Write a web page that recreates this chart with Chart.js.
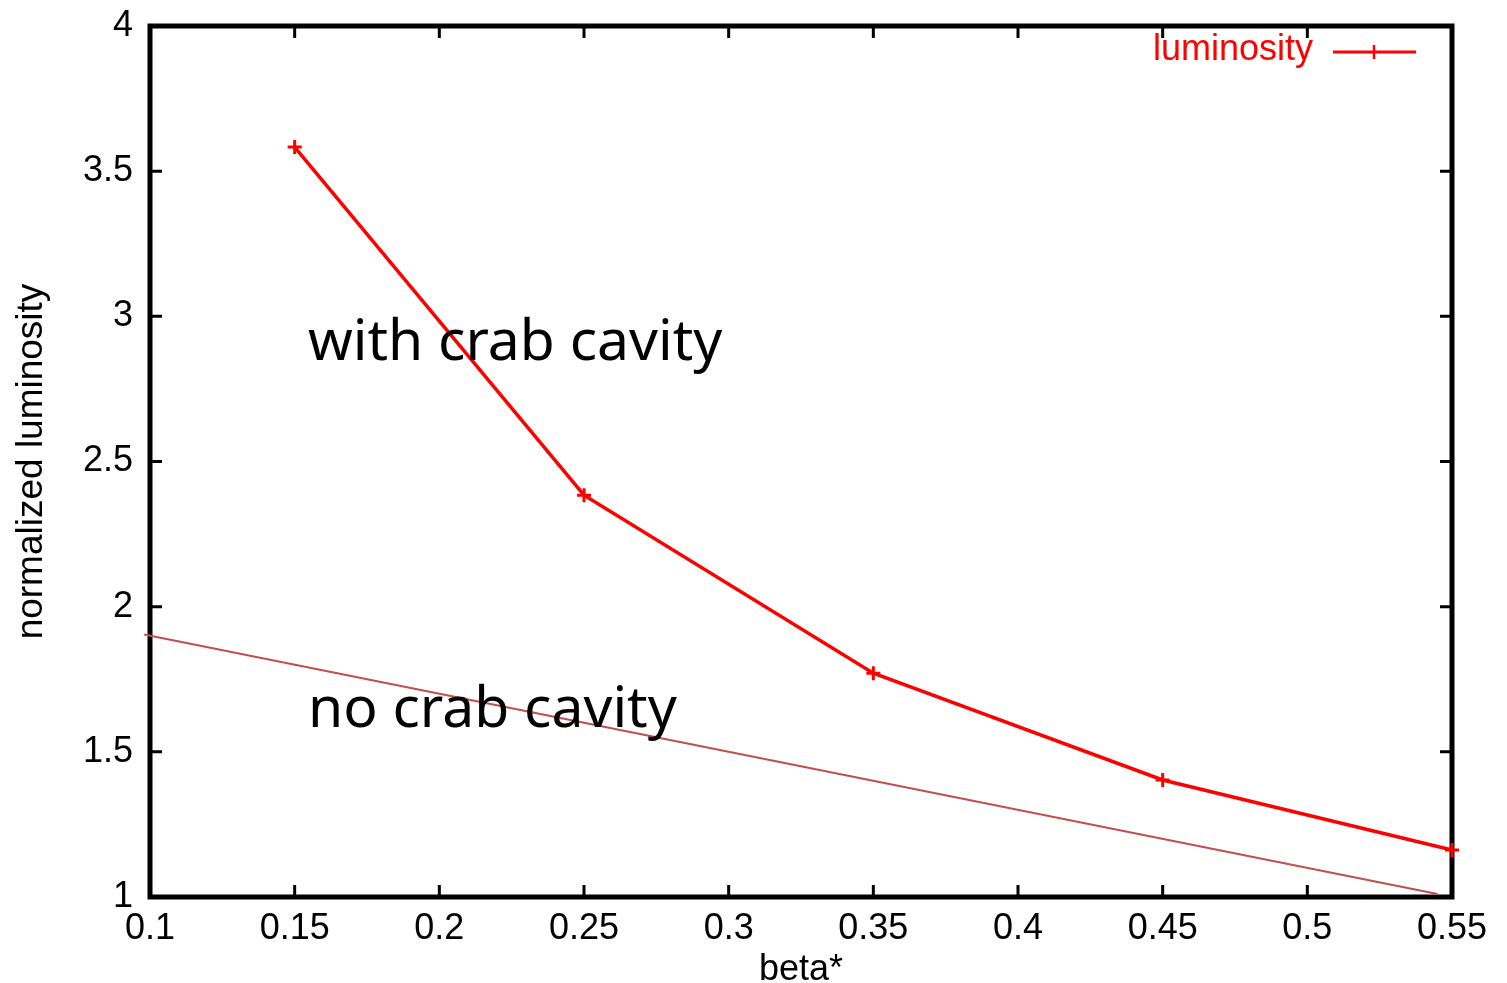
<!DOCTYPE html>
<html>
<head>
<meta charset="utf-8">
<title>normalized luminosity vs beta*</title>
<script src="https://cdn.jsdelivr.net/npm/chart.js@4"></script>
<style>
  html, body { margin: 0; padding: 0; background: #fff; }
  #wrap { width: 1507px; height: 983px; }
</style>
</head>
<body>
<div id="wrap"><canvas id="lumiChart" width="1507" height="983"></canvas></div>
<script>
// beta* scan, luminosity normalized to the nominal case
const betaStar = [0.15, 0.25, 0.35, 0.45, 0.55];
const luminosity = [3.583, 2.384, 1.771, 1.403, 1.162];

// reference line without crab cavity (two end points)
const noCrabX = [0.098, 0.545];
const noCrabY = [1.904, 1.01];

const xTicks = [0.1, 0.15, 0.2, 0.25, 0.3, 0.35, 0.4, 0.45, 0.5, 0.55];
const yTicks = [1, 1.5, 2, 2.5, 3, 3.5, 4];

// free text labels: [text, x, y(baseline)] in data units
const notes = [
  ['with crab cavity', 0.1546, 2.85],
  ['no crab cavity', 0.1546, 1.585]
];

const AXIS_FONT = 'Liberation Sans, Arial, sans-serif';

// gnuplot style frame with inward ticks on all four sides, plus the key
const framePlugin = {
  id: 'frame',
  beforeDatasetsDraw(chart) {
    const { ctx, chartArea: a, scales: { x, y } } = chart;
    ctx.save();
    ctx.strokeStyle = '#000';
    ctx.lineWidth = 3;
    const tl = 12;
    xTicks.forEach(v => {
      const px = x.getPixelForValue(v);
      ctx.beginPath();
      ctx.moveTo(px, a.bottom); ctx.lineTo(px, a.bottom - tl);
      ctx.moveTo(px, a.top); ctx.lineTo(px, a.top + tl);
      ctx.stroke();
    });
    yTicks.forEach(v => {
      const py = y.getPixelForValue(v);
      ctx.beginPath();
      ctx.moveTo(a.left, py); ctx.lineTo(a.left + tl, py);
      ctx.moveTo(a.right, py); ctx.lineTo(a.right - tl, py);
      ctx.stroke();
    });
    ctx.lineWidth = 5;
    ctx.strokeRect(a.left, a.top, a.right - a.left, a.bottom - a.top);
    ctx.restore();
  },
  afterDatasetsDraw(chart) {
    const { ctx, scales: { x, y } } = chart;
    ctx.save();
    // annotations
    ctx.fillStyle = '#000';
    ctx.font = '57px "Noto Sans", "Open Sans", sans-serif';
    ctx.textAlign = 'left';
    ctx.textBaseline = 'alphabetic';
    notes.forEach(([t, vx, vy]) => {
      ctx.fillText(t, x.getPixelForValue(vx), y.getPixelForValue(vy));
    });
    // key in the top right corner
    const a = chart.chartArea;
    const ky = a.top + 26;
    ctx.fillStyle = '#ff0000';
    ctx.font = '36px ' + AXIS_FONT;
    ctx.textAlign = 'right';
    ctx.textBaseline = 'middle';
    ctx.fillText(chart.data.datasets[0].label, a.right - 139, ky - 2);
    ctx.strokeStyle = '#ff0000';
    ctx.lineWidth = 3;
    ctx.beginPath();
    ctx.moveTo(a.right - 119, ky); ctx.lineTo(a.right - 36, ky);
    ctx.stroke();
    ctx.lineWidth = 2.5;
    ctx.beginPath();
    ctx.moveTo(a.right - 78, ky - 7); ctx.lineTo(a.right - 78, ky + 7);
    ctx.stroke();
    ctx.restore();
  }
};

new Chart(document.getElementById('lumiChart'), {
  type: 'scatter',
  data: {
    datasets: [
      {
        label: 'luminosity',
        data: betaStar.map((b, i) => ({ x: b, y: luminosity[i] })),
        showLine: true,
        borderColor: '#ff0000',
        borderWidth: 3.5,
        pointStyle: 'cross',
        pointRadius: 7,
        pointBorderWidth: 3,
        pointBorderColor: '#ff0000',
        clip: false
      },
      {
        label: 'no crab cavity',
        data: noCrabX.map((b, i) => ({ x: b, y: noCrabY[i] })),
        showLine: true,
        borderColor: '#c0504d',
        borderWidth: 2,
        pointRadius: 0,
        clip: false
      }
    ]
  },
  options: {
    responsive: false,
    animation: false,
    layout: { padding: { top: 26, right: 55, left: 0, bottom: 0 } },
    plugins: {
      legend: { display: false },
      tooltip: { enabled: false }
    },
    scales: {
      x: {
        type: 'linear',
        min: 0.1,
        max: 0.55,
        afterFit(scale) {
          scale.height = 86;
          scale.paddingLeft = 0;
          scale.paddingRight = 0;
        },
        afterBuildTicks(scale) { scale.ticks = xTicks.map(v => ({ value: v })); },
        grid: { display: false, drawTicks: false },
        border: { display: false },
        ticks: {
          padding: 10,
          color: '#000',
          font: { family: AXIS_FONT, size: 36 },
          maxRotation: 0,
          autoSkip: false,
          callback: v => String(Number(v.toFixed(2)))
        },
        title: {
          display: true,
          text: 'beta*',
          color: '#000',
          padding: 0,
          font: { family: AXIS_FONT, size: 36, lineHeight: 0.72 }
        }
      },
      y: {
        type: 'linear',
        min: 1,
        max: 4,
        afterFit(scale) {
          scale.width = 150;
          scale.paddingTop = 0;
          scale.paddingBottom = 0;
        },
        afterBuildTicks(scale) { scale.ticks = yTicks.map(v => ({ value: v })); },
        grid: { display: false, drawTicks: false },
        border: { display: false },
        ticks: {
          padding: 17,
          color: '#000',
          font: { family: AXIS_FONT, size: 36 },
          callback: v => String(Number(v.toFixed(1)))
        },
        title: {
          display: true,
          text: 'normalized luminosity',
          color: '#000',
          padding: { top: 13, bottom: 0 },
          font: { family: AXIS_FONT, size: 37, lineHeight: 1 }
        }
      }
    }
  },
  plugins: [framePlugin]
});
</script>
</body>
</html>
